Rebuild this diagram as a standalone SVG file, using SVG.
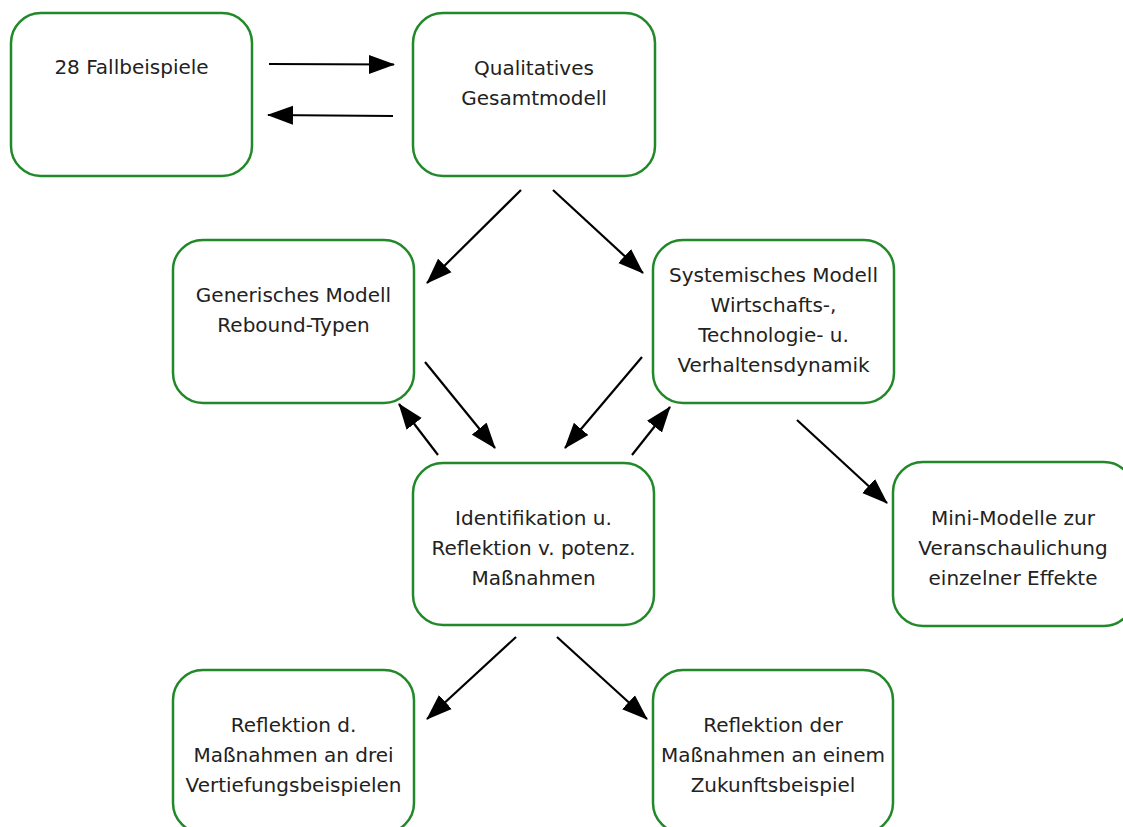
<svg xmlns="http://www.w3.org/2000/svg" width="1123" height="827" viewBox="0 0 1123 827">
<style>
.box{fill:#fff;stroke:#22892a;stroke-width:2.5}
.t{font-family:"DejaVu Sans",sans-serif;font-size:20px;fill:#222;text-anchor:middle}
.c{stroke:#000;stroke-width:2.2;fill:none;marker-end:url(#ah)}
</style>
<defs>
<marker id="ah" markerUnits="userSpaceOnUse" markerWidth="27" markerHeight="20" refX="25" refY="9.5" orient="auto" viewBox="0 0 27 19">
<path d="M0,0 L26,9.5 L0,19 z" fill="#000"/>
</marker>
</defs>
<rect width="1123" height="827" fill="#fff"/>
<g id="n1"><rect class="box" x="11" y="13" width="241" height="163" rx="30"/><text class="t" x="131.5" y="74">28 Fallbeispiele</text></g>
<g id="n2"><rect class="box" x="413" y="13" width="242" height="163" rx="30"/><text class="t" x="534" y="75">Qualitatives</text><text class="t" x="534" y="105">Gesamtmodell</text></g>
<g id="n3"><rect class="box" x="173" y="240" width="241" height="163" rx="30"/><text class="t" x="293.5" y="302">Generisches Modell</text><text class="t" x="293.5" y="332">Rebound-Typen</text></g>
<g id="n4"><rect class="box" x="653" y="240" width="241" height="163" rx="30"/><text class="t" x="773.5" y="282">Systemisches Modell</text><text class="t" x="773.5" y="312">Wirtschafts-,</text><text class="t" x="773.5" y="342">Technologie- u.</text><text class="t" x="773.5" y="372">Verhaltensdynamik</text></g>
<g id="n5"><rect class="box" x="893" y="462" width="241" height="164" rx="30"/><text class="t" x="1013" y="525">Mini-Modelle zur</text><text class="t" x="1013" y="555">Veranschaulichung</text><text class="t" x="1013" y="585">einzelner Effekte</text></g>
<g id="n6"><rect class="box" x="413" y="463" width="241" height="162" rx="30"/><text class="t" x="533.5" y="525">Identifikation u.</text><text class="t" x="533.5" y="555">Reflektion v. potenz.</text><text class="t" x="533.5" y="585">Maßnahmen</text></g>
<g id="n7"><rect class="box" x="173" y="670" width="241" height="163" rx="30"/><text class="t" x="293.5" y="732">Reflektion d.</text><text class="t" x="293.5" y="762">Maßnahmen an drei</text><text class="t" x="293.5" y="792">Vertiefungsbeispielen</text></g>
<g id="n8"><rect class="box" x="653" y="670" width="240" height="163" rx="30"/><text class="t" x="773" y="732">Reflektion der</text><text class="t" x="773" y="762">Maßnahmen an einem</text><text class="t" x="773" y="792">Zukunftsbeispiel</text></g>
<g id="connectors">
<line class="c" x1="269" y1="64" x2="394" y2="64.5"/>
<line class="c" x1="393" y1="116" x2="268" y2="115"/>
<line class="c" x1="521" y1="190" x2="427" y2="283"/>
<line class="c" x1="553" y1="190" x2="643" y2="273"/>
<line class="c" x1="425" y1="362" x2="495" y2="448"/>
<line class="c" x1="642" y1="357" x2="565" y2="448"/>
<line class="c" x1="438" y1="455" x2="399" y2="404"/>
<line class="c" x1="632" y1="455" x2="670" y2="407"/>
<line class="c" x1="797" y1="420" x2="887" y2="503"/>
<line class="c" x1="516" y1="637" x2="427" y2="719"/>
<line class="c" x1="557" y1="637" x2="647" y2="719"/>
</g>
</svg>
